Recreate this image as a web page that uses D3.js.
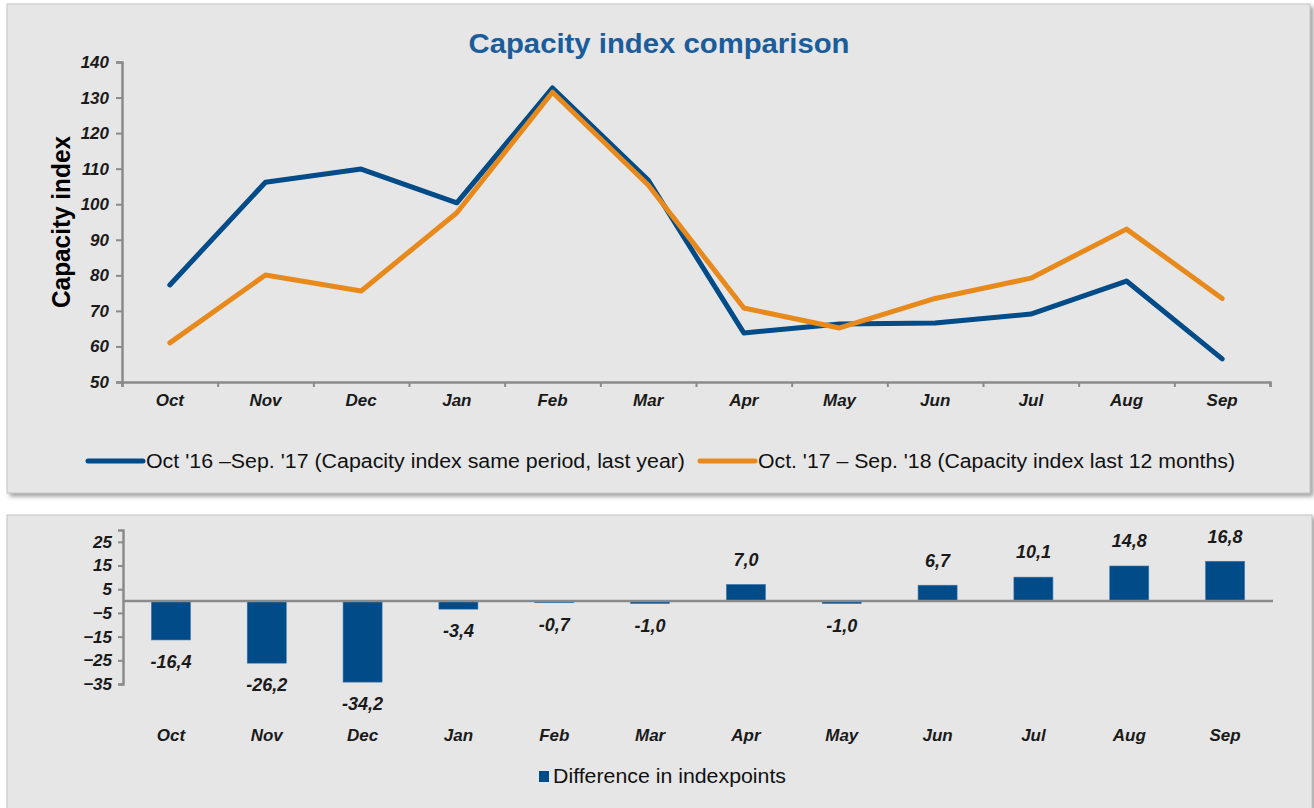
<!DOCTYPE html>
<html>
<head>
<meta charset="utf-8">
<script src="https://cdn.jsdelivr.net/npm/d3@7"></script>
<style>
  body { margin: 0; background: #ffffff; }
  svg { display: block; font-family: "Liberation Sans", Arial, sans-serif; }
  .tick text { font-weight: bold; font-style: italic; fill: #1a1a1a; }
</style>
</head>
<body>
<div id="chart"></div>
<script>
// data
const months = ["Oct", "Nov", "Dec", "Jan", "Feb", "Mar", "Apr", "May", "Jun", "Jul", "Aug", "Sep"];
const lastYear = [77.3, 106.2, 109.9, 100.4, 132.7, 106.8, 63.8, 66.3, 66.6, 69.1, 78.4, 56.5];
const last12 = [61.0, 80.1, 75.6, 97.6, 131.5, 105.4, 70.8, 65.2, 73.5, 79.2, 93.0, 73.5];
const diffValues = [-16.4, -26.2, -34.2, -3.4, -0.7, -1.0, 7.0, -1.0, 6.7, 10.1, 14.8, 16.8];
const topTicks = [50, 60, 70, 80, 90, 100, 110, 120, 130, 140];
const bottomTicks = [-35, -25, -15, -5, 5, 15, 25];
const seriesNames = ["Oct '16 \u2013Sep. '17 (Capacity index same period, last year)",
                     "Oct. '17 \u2013 Sep. '18 (Capacity index last  12 months)"];
const barName = "Difference in indexpoints";

const W = 1314, H = 808;
const blue = "#004b88", orange = "#e8891c", axisColor = "#8a8a8a";
const fmt = d => d.toFixed(1).replace(".", ",");

const svg = d3.select("#chart").append("svg").attr("width", W).attr("height", H);

const defs = svg.append("defs");
const f = defs.append("filter").attr("id", "shadow").attr("x", "-5%").attr("y", "-5%")
  .attr("width", "110%").attr("height", "115%");
f.append("feDropShadow").attr("dx", 3).attr("dy", 3).attr("stdDeviation", 2)
  .attr("flood-color", "#777").attr("flood-opacity", 0.7);

// panels
svg.append("rect").attr("x", 7).attr("y", 4).attr("width", 1303).attr("height", 489)
  .attr("fill", "#e6e6e6").attr("stroke", "#c4c4c4").attr("filter", "url(#shadow)");
svg.append("rect").attr("x", 7).attr("y", 515).attr("width", 1305).attr("height", 310)
  .attr("fill", "#e6e6e6").attr("stroke", "#c4c4c4").attr("filter", "url(#shadow)");

// ---------- top chart ----------
const x = d3.scaleBand().domain(months).range([122, 1270]);
const y = d3.scaleLinear().domain([50, 140]).range([382, 62]);

svg.append("text").attr("x", 659).attr("y", 53).attr("text-anchor", "middle")
  .attr("font-size", 28).attr("font-weight", "bold").attr("fill", "#1b5c9b")
  .attr("textLength", 381).attr("lengthAdjust", "spacingAndGlyphs")
  .text("Capacity index comparison");

svg.append("text").attr("transform", "translate(70,222) rotate(-90)")
  .attr("text-anchor", "middle").attr("font-size", 26).attr("font-weight", "bold")
  .attr("fill", "#000").attr("textLength", 172).attr("lengthAdjust", "spacingAndGlyphs")
  .text("Capacity index");

const yAxis = svg.append("g").attr("transform", "translate(122,0)")
  .call(d3.axisLeft(y).tickValues(topTicks).tickSize(6).tickPadding(7));
yAxis.selectAll("text").attr("font-size", 17);

// category boundary ticks
const xEdges = d3.scaleLinear().domain([0, 12]).range(x.range());
const xAxis = svg.append("g").attr("transform", "translate(0,382)")
  .call(d3.axisBottom(xEdges).ticks(12).tickSize(5).tickFormat(""));
svg.append("g").attr("transform", "translate(0,382)")
  .call(d3.axisBottom(x).tickSize(0).tickPadding(12))
  .call(g => g.select(".domain").remove())
  .selectAll("text").attr("font-size", 17);

[yAxis, xAxis].forEach(g => {
  g.select(".domain").attr("stroke", axisColor).attr("stroke-width", 2.5);
  g.selectAll(".tick line").attr("stroke", axisColor).attr("stroke-width", 2);
});

const line = d3.line().x((d, i) => x(months[i]) + x.bandwidth() / 2).y(d => y(d));
svg.append("path").datum(lastYear).attr("d", line).attr("fill", "none")
  .attr("stroke", blue).attr("stroke-width", 5).attr("stroke-linejoin", "round").attr("stroke-linecap", "round");
svg.append("path").datum(last12).attr("d", line).attr("fill", "none")
  .attr("stroke", orange).attr("stroke-width", 5).attr("stroke-linejoin", "round").attr("stroke-linecap", "round");

// legend
const legend = [
  {name: seriesNames[0], color: blue, x0: 88, len: 539},
  {name: seriesNames[1], color: orange, x0: 700, len: 477}
];
legend.forEach(l => {
  svg.append("line").attr("x1", l.x0).attr("x2", l.x0 + 55).attr("y1", 461).attr("y2", 461)
    .attr("stroke", l.color).attr("stroke-width", 5).attr("stroke-linecap", "round");
  svg.append("text").attr("x", l.x0 + 58).attr("y", 468).attr("font-size", 20).attr("fill", "#111")
    .attr("textLength", l.len).attr("lengthAdjust", "spacingAndGlyphs").text(l.name);
});

// ---------- bottom chart ----------
const xb = d3.scaleBand().domain(months).range([123, 1273]);
const yb = d3.scaleLinear().domain([-35, 30]).range([684, 530]);

const ybAxis = svg.append("g").attr("transform", "translate(123,0)")
  .call(d3.axisLeft(yb).tickValues(bottomTicks).tickSize(5).tickPadding(6));
ybAxis.selectAll("text").attr("font-size", 17);
ybAxis.select(".domain").attr("stroke", axisColor).attr("stroke-width", 2.5);
ybAxis.selectAll(".tick line").attr("stroke", axisColor).attr("stroke-width", 2);

const barW = 39;
svg.append("g").selectAll("rect").data(diffValues).join("rect")
  .attr("x", (d, i) => xb(months[i]) + xb.bandwidth() / 2 - barW / 2)
  .attr("y", d => yb(Math.max(0, d)))
  .attr("width", barW)
  .attr("height", d => Math.abs(yb(d) - yb(0)))
  .attr("fill", blue).attr("stroke", "#3b73a8").attr("stroke-width", 0.6);

svg.append("line").attr("x1", 123).attr("x2", 1273).attr("y1", yb(0)).attr("y2", yb(0))
  .attr("stroke", axisColor).attr("stroke-width", 2.5);

svg.append("g").selectAll("text").data(diffValues).join("text")
  .attr("x", (d, i) => xb(months[i]) + xb.bandwidth() / 2)
  .attr("y", d => d < 0 ? yb(d) + 22 : yb(d) - 25)
  .attr("dy", "0.35em").attr("text-anchor", "middle")
  .attr("font-size", 18).attr("font-weight", "bold").attr("font-style", "italic").attr("fill", "#1a1a1a")
  .text(fmt);

svg.append("g").attr("transform", "translate(0,723)")
  .call(d3.axisBottom(xb).tickSize(0).tickPadding(6))
  .call(g => g.select(".domain").remove())
  .selectAll("text").attr("font-size", 17);

svg.append("rect").attr("x", 539).attr("y", 771).attr("width", 10).attr("height", 11).attr("fill", blue);
svg.append("text").attr("x", 553).attr("y", 783).attr("font-size", 20).attr("fill", "#111")
  .attr("textLength", 233).attr("lengthAdjust", "spacingAndGlyphs").text(barName);
</script>
</body>
</html>
